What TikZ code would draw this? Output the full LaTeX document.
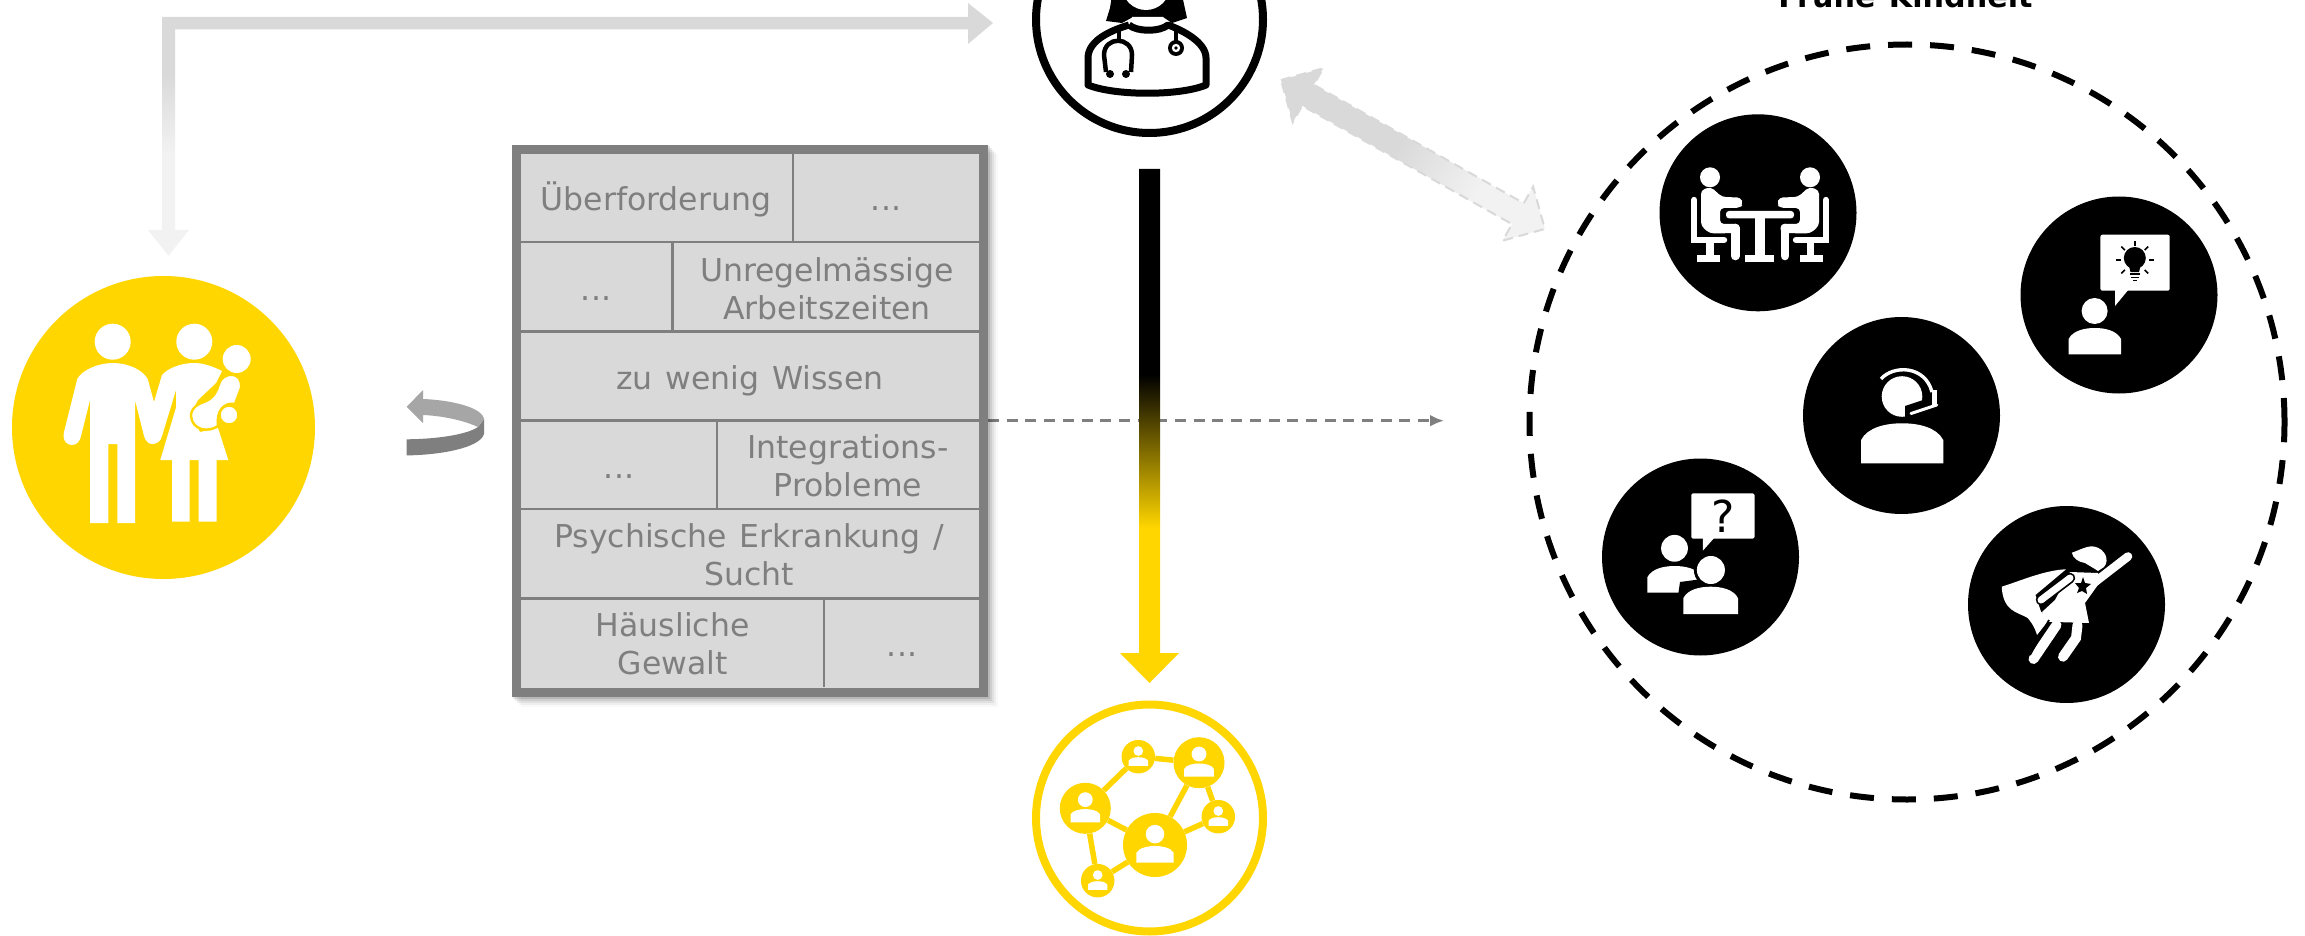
\documentclass[tikz,border=0pt]{standalone}
\usepackage{fontspec}
\setmainfont[WordSpace=1.28]{DejaVu Sans}
\usetikzlibrary{arrows.meta}
\definecolor{yl}{HTML}{FFD600}
\definecolor{gA}{HTML}{D9D9D9}
\definecolor{gB}{HTML}{F2F2F2}
\definecolor{gC}{HTML}{7F7F7F}
\definecolor{gD}{HTML}{A6A6A6}
\pgfdeclareverticalshading{bentgrad}{100bp}{color(0bp)=(gB);color(45.3bp)=(gB);color(61.1bp)=(gA);color(100bp)=(gA)}
\pgfdeclareverticalshading{maingrad}{100bp}{color(0bp)=(yl);color(40.1bp)=(yl);color(55bp)=(black);color(100bp)=(black)}
\pgfdeclarehorizontalshading{dblgrad}{100bp}{color(0bp)=(gA);color(47bp)=(gA);color(62.5bp)=(gB);color(100bp)=(gB)}
\tikzset{
  x=1pt,y=-1pt,
  cellt/.style={font=\fontsize{31.5}{38}\selectfont,text=gC,align=center,anchor=base,inner sep=0pt},
  divider/.style={draw=gC,line width=2.6pt},
  blackdisc/.style={circle,fill=black,inner sep=0pt,minimum size=197pt},
  ringdisc/.style={circle,draw=#1,line width=8pt,fill=white,inner sep=0pt,minimum size=227pt},
  netnode/.style={circle,fill=yl,inner sep=0pt,minimum size=#1},
  netedge/.style={draw=yl,line width=5.5pt},
}
% person glyph: centre x, centre y, radius of the disc
\newcommand{\netperson}[3]{%
  \begin{scope}[shift={(#1,#2)}]
    \fill[white] (0,{-0.34*#3}) circle ({0.29*#3});
    \fill[white] ({-0.58*#3},{0.55*#3}) -- ({-0.58*#3},{0.24*#3}) .. controls ({-0.5*#3},{0.08*#3}) and ({-0.2*#3},{0.03*#3}) .. (0,{0.03*#3}) .. controls ({0.2*#3},{0.03*#3}) and ({0.5*#3},{0.08*#3}) .. ({0.58*#3},{0.24*#3}) -- ({0.58*#3},{0.55*#3}) -- cycle;
  \end{scope}}
% bust for the black discs: left, right, top, bottom
\newcommand{\bust}[5][white]{%
  \fill[#1] (#2,#5) -- (#2,{#4+0.42*(#5-#4)}) .. controls (#2+0.08*#3-0.08*#2,#4+0.1*#5-0.1*#4) and (#2+0.3*#3-0.3*#2,#4) .. ({(#2+#3)/2},#4) .. controls (#2+0.7*#3-0.7*#2,#4) and (#2+0.92*#3-0.92*#2,#4+0.1*#5-0.1*#4) .. (#3,{#4+0.42*(#5-#4)}) -- (#3,#5) -- cycle;}
\newcommand{\meethalf}{%
  \draw[white,line width=6.4pt,line cap=round] (1694.2,200) -- (1694.2,238);
  \fill[white] (1691,236.7) rectangle (1724,243.3);
  \draw[white,line width=6.4pt,line cap=round] (1720,240) -- (1724,240);
  \fill[white] (1706,243) rectangle (1713.5,256);
  \fill[white] (1697.4,255) rectangle (1719.6,262);
  \fill[white] (1710,177.3) circle (10);
  \fill[white,rounded corners=4pt] (1701,190) -- (1711,187) -- (1722,197) -- (1741,197.5) -- (1743,204) -- (1740,208) -- (1720,208) -- (1720,224) -- (1739.5,224) -- (1739.5,233) -- (1710,233.5) -- (1701,226) -- cycle;
  \draw[white,line width=8.6pt,line cap=round] (1735.2,228) -- (1735.2,256);
}
\begin{document}
\begin{tikzpicture}
\useasboundingbox (0,0) rectangle (2305,936);
\clip (0,0) rectangle (2305,936);
\fill[white] (0,0) rectangle (2305,936);

% ---------- family disc
\node[circle,fill=yl,inner sep=0pt,minimum size=303pt] (family) at (163.5,427.5) {};
\fill[white] (112.7,341.7) circle (18);
\fill[white] (194.3,341.7) circle (18);
\fill[white] (236.7,359) circle (14);
\fill[white] (113,363) .. controls (98,363) and (82,370) .. (77.3,379) -- (64,432) .. controls (62,442) and (68,445) .. (72,445) .. controls (77,445) and (80,441) .. (81,436) -- (90,400) -- (90,523) -- (108.3,523) -- (108.3,444) -- (117.3,444) -- (117.3,523) -- (135,523) -- (135,400) -- (144,436) .. controls (146,442) and (149,444) .. (152.3,444) .. controls (157,444) and (161,441) .. (162,436) -- (176,390) -- (176,407.6) -- (160.3,460) -- (172,460) -- (172,521.6) -- (189.7,521.6) -- (189.7,460) -- (198.7,460) -- (198.7,521.6) -- (216.7,521.6) -- (216.7,460) -- (228.3,460) -- (218,428) -- (200,432) -- (190,415) -- (198,400) -- (216,383) -- (222,371) .. controls (212,366) and (203,363) .. (194,363) .. controls (180,363) and (167,369) .. (162,375) -- (154,402) -- (147.7,379) .. controls (143,370) and (128,363) .. (113,363) -- cycle;
\filldraw[fill=white,draw=yl,line width=2.4pt] (219,384) .. controls (222,372) and (243,370) .. (241,388) -- (235,404) .. controls (225,402) and (216,410) .. (218,426) .. controls (208,433) and (192,430) .. (191,416) .. controls (191,407) and (200,403) .. (204,402) .. controls (214,398) and (217,391) .. (219,384) -- cycle;
\filldraw[fill=white,draw=yl,line width=2.4pt] (229,415) circle (9.5);

% ---------- doctor
\node[ringdisc=black] (doctor) at (1149.5,19.5) {};
\fill[black] (1112,-5) -- (1110,8) -- (1106,21) -- (1122,23) -- (1133,17) -- (1163,17) -- (1172,23) -- (1187,18) -- (1182,-5) -- cycle;
\fill[white] (1146,-14) circle (24);
\fill[white] (1132,17) -- (1163,17) -- (1166,25) -- (1130,25) -- cycle;
\draw[black,line width=7pt,line join=round] (1129,25) .. controls (1112,30) and (1088,40) .. (1088,58) -- (1088,85) .. controls (1115,96) and (1180,96) .. (1206,85) -- (1206,58) .. controls (1206,42) and (1182,30) .. (1168,25) .. controls (1160,32) and (1137,32) .. (1129,25);
\draw[black,line width=4.5pt] (1119,28) -- (1119,42);
\draw[black,line width=4.5pt] (1106,72) -- (1104,55) .. controls (1104,36) and (1132,36) .. (1132,55) -- (1131,72);
\fill[black] (1110,74) circle (4) (1126,74) circle (4);
\draw[black,line width=4pt] (1176,28) -- (1176,42);
\fill[black] (1176,48) circle (8);
\fill[white] (1176,48) circle (4.2);
\fill[black] (1176,48) circle (1.8);

% ---------- bent arrow doctor -> family
\path[shading=bentgrad] (993,23) -- (968,3) -- (968,17) -- (162,17) -- (162,230) -- (148,230) -- (168.5,255.6) -- (189,230) -- (175,230) -- (175,29.5) -- (968,29.5) -- (968,44) -- cycle;

% ---------- dashed arrow
\coordinate (dashstart) at (988,420.7);
\coordinate (dashend) at (1444,420.7);
\draw[gC,line width=3pt,dash pattern=on 11pt off 7.7pt,-{Latex[length=14pt,width=12pt]}] (dashstart) -- (dashend);

% ---------- centre arrow
\path[shading=maingrad] (1139,169) -- (1160,169) -- (1160,653) -- (1179,653) -- (1149.5,683) -- (1120,653) -- (1139,653) -- cycle;

% ---------- network
\node[ringdisc=yl] (network) at (1149.5,818) {};
\node[netnode=51pt] (nA) at (1085.3,808.3) {};
\node[netnode=33.5pt] (nB) at (1138.3,756.7) {};
\node[netnode=51pt] (nC) at (1199,762.7) {};
\node[netnode=33.5pt] (nD) at (1218.3,816.7) {};
\node[netnode=64pt] (nE) at (1155,845) {};
\node[netnode=33.5pt] (nF) at (1097.7,880.7) {};
\draw[netedge] (nA) -- (nB);
\draw[netedge] (nB) -- (nC);
\draw[netedge] (nC) -- (nD);
\draw[netedge] (nC) -- (nE);
\draw[netedge] (nD) -- (nE);
\draw[netedge] (nA) -- (nE);
\draw[netedge] (nA) -- (nF);
\draw[netedge] (nF) -- (nE);
\netperson{1085.3}{808.3}{25.5}
\netperson{1138.3}{756.7}{16.7}
\netperson{1199}{762.7}{25.5}
\netperson{1218.3}{816.7}{16.8}
\netperson{1155}{845}{32}
\netperson{1097.7}{880.7}{16.7}

% ---------- rotation arrow
\fill[gC] (406.7,439.3) .. controls (440,439) and (468,434) .. (478,427) -- (484,419) -- (484,434) .. controls (480,448) and (440,455) .. (406.7,455.4) -- cycle;
\fill[gD] (406.7,406.8) -- (423,390) -- (423,399) .. controls (450,400) and (482,407) .. (484,419) -- (478,427) .. controls (465,421) and (445,416) .. (423,415) -- (423,423) -- cycle;

% ---------- box
\foreach \s/\o in {12/.025,10/.04,8/.06,6/.08,4/.1}
  \fill[black,opacity=\o] (512+\s-3,145+\s-3) rectangle (986+\s,695+\s);
\node[draw=gC,fill=gA,line width=9.2pt,inner sep=0pt,minimum width=467pt,minimum height=543pt] (box) at (750,421) {};
\draw[divider] (521,242) -- (979,242);
\draw[divider] (521,331.6) -- (979,331.6);
\draw[divider] (521,420.4) -- (979,420.4);
\draw[divider] (521,509) -- (979,509);
\draw[divider] (521,598.7) -- (979,598.7);
\draw[divider] (793,154.4) -- (793,242);
\draw[divider] (672.7,242) -- (672.7,331.6);
\draw[divider] (717,420.4) -- (717,509);
\draw[divider] (824,598.7) -- (824,687);
\node[cellt] (t1) at (656,210.6) {Überforderung};
\node[cellt] (t2) at (886,210.6) {...};
\node[cellt] (t3) at (596,300) {...};
\node[cellt] (t4) at (827,319) {Unregelmässige\\Arbeitszeiten};
\node[cellt] (t5) at (750,389) {zu wenig Wissen};
\node[cellt] (t6) at (619,478) {...};
\node[cellt] (t7) at (848,496) {Integrations-\\Probleme};
\node[cellt] (t8) at (749,585) {Psychische Erkrankung /\\Sucht};
\node[cellt] (t9) at (672.7,674.6) {Häusliche\\Gewalt};
\node[cellt] (t10) at (902,656) {...};

% ---------- double arrow
\begin{scope}[transform canvas={shift={(1281,80)},rotate=-29.44}]
  \path[shading=dblgrad] (0,0) -- (31,-31) -- (31,-12) -- (272,-12) -- (272,-31) -- (303,0) -- (272,31) -- (272,12) -- (31,12) -- (31,31) -- cycle;
  \draw[gA,line width=2pt,dash pattern=on 10pt off 6pt] (0,0) -- (31,-31) -- (31,-12) -- (272,-12) -- (272,-31) -- (303,0) -- (272,31) -- (272,12) -- (31,12) -- (31,31) -- cycle;
\end{scope}

% ---------- dashed circle and title
\node[circle,draw=black,line width=6pt,dash pattern=on 24pt off 18pt,inner sep=0pt,minimum size=755pt] (ring) at (1907,422) {};
\node[font=\fontsize{30.2}{34}\selectfont\bfseries,text=black,anchor=base,inner sep=0pt] (title) at (1905.5,8) {Frühe Kindheit};

% ---------- meeting
\node[blackdisc] (meet) at (1758,212.8) {};
\fill[white,rounded corners=3pt] (1726,211) rectangle (1794,218.3);
\fill[white] (1754.8,218) rectangle (1765,256);
\fill[white] (1745,255) rectangle (1774,262);
\meethalf
\begin{scope}[shift={(3520,0)},xscale=-1]
\meethalf
\end{scope}

% ---------- idea
\node[blackdisc] (idea) at (2119,295) {};
\fill[white,rounded corners=2pt] (2100.4,234.7) rectangle (2169.7,290.7);
\fill[white] (2115,289) -- (2115,306) -- (2129,289) -- cycle;
\fill[white] (2094.6,311) circle (13);
\bust{2068.6}{2121}{328}{354.3}
\fill[black] (2134.8,258) circle (11);
\fill[black] (2128,262) -- (2141.5,262) -- (2139,272) -- (2130.5,272) -- cycle;
\draw[black,line width=1.8pt] (2130,274) -- (2139.5,274) (2131,277.5) -- (2138.5,277.5) (2133,280.5) -- (2136.5,280.5);
\foreach \a in {0,45,90,135,180,225,315}
  \draw[black,line width=1.6pt] (2134.8,260) ++({-\a}:14) -- ++({-\a}:5);

% ---------- headset
\node[blackdisc] (headset) at (1901.5,415.5) {};
\fill[white] (1902,396.5) circle (20.3);
\bust{1861}{1943.3}{423.3}{463.3}
\fill[black] (1905,406) -- (1932,397) -- (1932,421) -- (1905,421) -- cycle;
\draw[white,line width=3.4pt] (1881,379) .. controls (1893,365) and (1925,365) .. (1932,392);
\fill[white] (1931.7,390) rectangle (1937,405);
\draw[white,line width=3pt,line cap=round] (1936.7,405) -- (1911,413.5);

% ---------- question
\node[blackdisc] (quest) at (1700.5,557) {};
\fill[white,rounded corners=1.5pt] (1691.4,493.3) rectangle (1754.5,538.7);
\fill[white] (1702.8,537) -- (1702.8,550.7) -- (1715,537) -- cycle;
\node[font=\fontsize{44}{44}\selectfont,text=black,inner sep=0pt] (qmark) at (1722.7,516) {?};
\fill[white] (1674.5,548.3) circle (13.4);
\bust{1647.4}{1702}{566}{592.7}
\fill[black] (1710.9,570) circle (17);
\fill[black] (1678,596) -- (1680,582) -- (1710,578) -- (1742,590) -- (1742,600) -- cycle;
\fill[white] (1710.9,570) circle (14);
\bust{1683.3}{1738}{586.7}{614}

% ---------- hero
\node[blackdisc] (hero) at (2066.5,604.5) {};
\fill[white] (2001.7,586.7) .. controls (2020,581) and (2045,570) .. (2066,569.3) -- (2035.4,595) -- (2041,611.7) -- (2048.8,620) -- (2037,635) .. controls (2034,625) and (2030,621) .. (2027.7,618) .. controls (2018,612) and (2003,612) .. (2001.7,586.7) -- cycle;
\fill[white] (2071.8,552.7) .. controls (2080,550) and (2088,545) .. (2094.7,546.7) .. controls (2105,549) and (2110,560) .. (2104,567) -- (2098,571) .. controls (2092,567) and (2088,565) .. (2085,563) .. controls (2078,562) and (2073,558) .. (2071.8,552.7) -- cycle;
\draw[white,line width=8.6pt,line cap=round] (2095,582) -- (2128,556.5);
\fill[white] (2070,572) -- (2098,573) -- (2100,582) -- (2085,603) -- (2089,623) -- (2045,621.7) -- (2042,612) -- (2055,600) -- cycle;
\draw[black,line width=10.5pt,line cap=round] (2070,578) -- (2041,600);
\draw[white,line width=7pt,line cap=round] (2070,578) -- (2041,600);
\draw[white,line width=10pt,line cap=round] (2056.5,625) -- (2033.5,659);
\draw[white,line width=10pt,line cap=round] (2077.5,625) -- (2076,638) -- (2063,656.7);
\draw[black,line width=1.8pt] (2049,620) -- (2030,655);
\fill[black] (2083,577) -- (2085,583) -- (2091,584) -- (2086,588) -- (2087,594) -- (2082,591) -- (2077,593) -- (2079,588) -- (2075,583) -- (2081,583) -- cycle;
\end{tikzpicture}
\end{document}
